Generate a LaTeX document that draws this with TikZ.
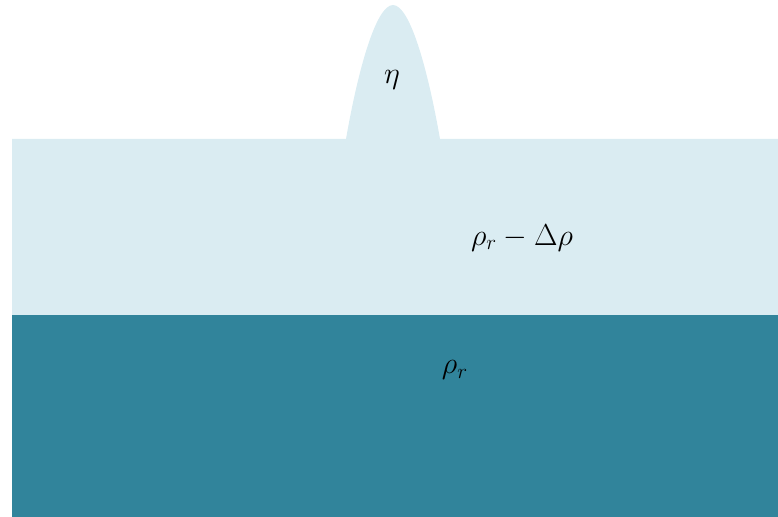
\documentclass[tikz,border=0pt]{standalone}
\usepackage{amsmath,amssymb}
\usepackage{tikz}
\usetikzlibrary{positioning}

\definecolor{lightlayer}{RGB}{218,236,242}
\definecolor{deeplayer}{RGB}{49,132,155}

\begin{document}
\begin{tikzpicture}[
    x=0.02cm, y=-0.02cm,
    layer/.style={fill=lightlayer, draw=none},
    deep/.style={fill=deeplayer, draw=none},
    lbl/.style={font=\fontsize{17}{20}\selectfont, inner sep=0pt}
  ]
  \useasboundingbox (0,0) rectangle (778,517);

  % upper layer with the bump
  \fill[layer] (12,139) -- (346,139)
    .. controls (358,70) and (376,5) .. (393,5)
    .. controls (410,5) and (428,70) .. (440,139)
    -- (778,139) -- (778,315) -- (12,315) -- cycle;
  % lower layer
  \fill[deep] (12,315) rectangle (778,517);

  \node[lbl] (eta) at (392,80) {$\eta$};
  \node[lbl] (upper) at (522,238) {$\rho_r-\Delta\rho$};
  \node[lbl] (lower) at (455,370) {$\rho_r$};
\end{tikzpicture}
\end{document}
